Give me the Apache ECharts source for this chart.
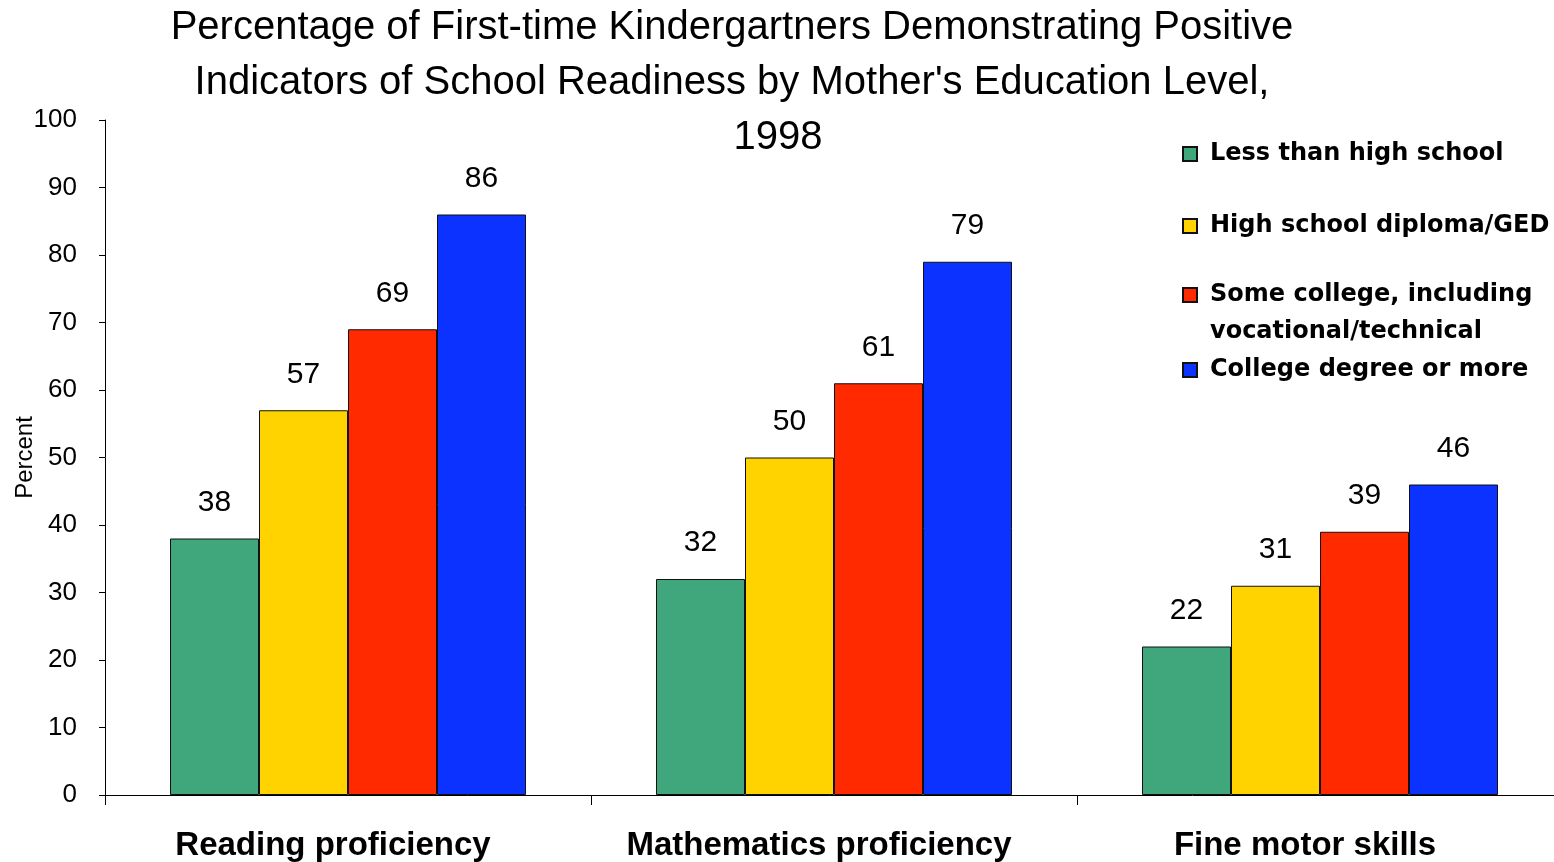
<!DOCTYPE html>
<html>
<head>
<meta charset="utf-8">
<script src="https://cdn.jsdelivr.net/npm/echarts@6/dist/echarts.min.js"></script>
<style>
  html, body { margin: 0; padding: 0; background: #fff; }
  #chart { width: 1554px; height: 862px; }
</style>
</head>
<body>
<div id="chart"></div>
<script>
  const categories = ['Reading proficiency', 'Mathematics proficiency', 'Fine motor skills'];
  const seriesNames = [
    'Less than high school',
    'High school diploma/GED',
    'Some college, including vocational/technical',
    'College degree or more'
  ];
  const lessThanHS = [38, 32, 22];
  const hsDiploma = [57, 50, 31];
  const someCollege = [69, 61, 39];
  const collegeDegree = [86, 79, 46];
  const yTicks = [0, 10, 20, 30, 40, 50, 60, 70, 80, 90, 100];

  const colors = ['#3fa77b', '#ffd300', '#ff2a00', '#0c32ff'];
  const values = [lessThanHS, hsDiploma, someCollege, collegeDegree];
  const font = '"Liberation Sans", Arial, sans-serif';
  const legendFont = '"DejaVu Sans", sans-serif';
  const legendTops = [137, 209, 278, 353];

  const chart = echarts.init(document.getElementById('chart'));

  const options = {
    animation: false,
    textStyle: { fontFamily: font, color: '#000' },
    title: [
      {
        text: 'Percentage of First-time Kindergartners Demonstrating Positive\nIndicators of School Readiness by Mother\'s Education Level,',
        left: 727,
        top: -5,
        textAlign: 'center',
        textStyle: { fontSize: 40, fontWeight: 'normal', lineHeight: 55, fontFamily: font, color: '#000' }
      },
      {
        text: '1998',
        left: 773,
        top: 113,
        textAlign: 'center',
        textStyle: { fontSize: 40, fontWeight: 'normal', fontFamily: font, color: '#000' }
      },
      {
        // second line of the third legend entry
        text: 'vocational/technical',
        left: 1205,
        top: 315,
        textStyle: { fontSize: 24, fontWeight: 'bold', fontFamily: legendFont, color: '#000' }
      }
    ],
    legend: seriesNames.map((name, i) => ({
      data: [name],
      left: 1177,
      top: legendTops[i],
      icon: 'rect',
      itemWidth: 14,
      itemHeight: 14,
      selectedMode: false,
      formatter: (n) => n.replace(' vocational/technical', ''),
      textStyle: { fontSize: 24, fontWeight: 'bold', fontFamily: legendFont, color: '#000', padding: [0, 0, 0, 8] }
    })),
    grid: { left: 105, top: 120, width: 1458, bottom: 67, containLabel: false, outerBoundsMode: 'none' },
    xAxis: {
      type: 'category',
      data: categories,
      axisLine: { lineStyle: { color: '#000', width: 1 } },
      axisTick: { show: true, interval: 0, length: 10, lineStyle: { color: '#000' } },
      axisLabel: {
        interval: 0,
        hideOverlap: false,
        fontSize: 33,
        fontWeight: 'bold',
        margin: 34,
        padding: [0, 30, 0, 0],
        color: '#000',
        fontFamily: font
      }
    },
    yAxis: {
      type: 'value',
      min: yTicks[0],
      max: yTicks[yTicks.length - 1],
      interval: 10,
      name: 'Percent',
      nameLocation: 'middle',
      nameGap: 68,
      nameMoveOverlap: false,
      nameTextStyle: { fontSize: 24, color: '#000', fontFamily: font },
      axisLine: { show: true, lineStyle: { color: '#000', width: 1 } },
      axisTick: { show: true, length: 6, lineStyle: { color: '#000' } },
      axisLabel: { fontSize: 26, margin: 28, color: '#000', fontFamily: font },
      splitLine: { show: false }
    },
    series: seriesNames.map((name, i) => ({
      name: name,
      type: 'bar',
      data: values[i],
      barWidth: 89,
      barGap: '0%',
      itemStyle: { color: colors[i], borderColor: '#111', borderWidth: 1 },
      label: {
        show: true,
        position: 'top',
        distance: 21,
        fontSize: 30,
        color: '#000',
        fontFamily: font
      }
    }))
  };

  chart.setOption(options);
</script>
</body>
</html>
